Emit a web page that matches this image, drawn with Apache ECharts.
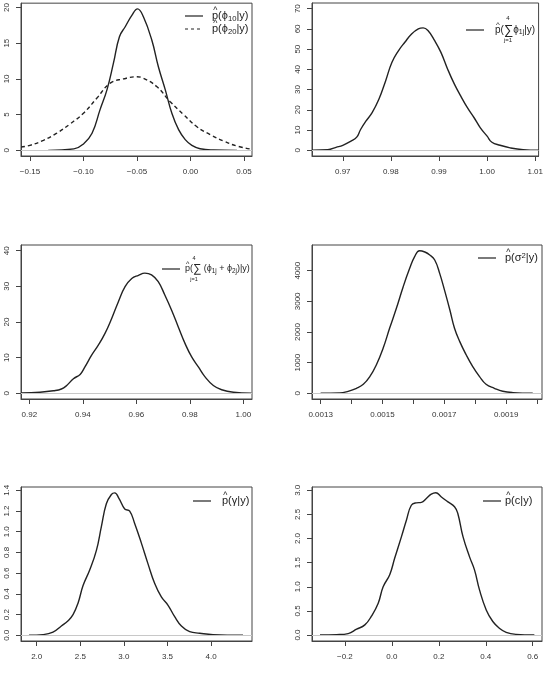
<!DOCTYPE html>
<html>
<head>
<meta charset="utf-8">
<script src="https://cdn.jsdelivr.net/npm/echarts@6/dist/echarts.min.js"></script>
<style>
html, body { margin: 0; padding: 0; background: #fff; }
#chart { width: 546px; height: 676px; }
</style>
</head>
<body>
<div id="chart"></div>
<script>
// density estimates
var phi10X = [-0.133, -0.109, -0.100, -0.092, -0.0845, -0.078, -0.072, -0.0664, -0.061, -0.0548, -0.0495, -0.044, -0.0361, -0.030, -0.0236, -0.0174, -0.0111, -0.0049, 0.0013, 0.009, 0.0216, 0.0435];
var phi10Y = [0, 0.2, 0.9, 2.4, 5.7, 8.5, 12.2, 15.9, 17.3, 18.9, 19.8, 18.7, 15.4, 11.7, 8.5, 5.2, 2.9, 1.5, 0.7, 0.23, 0.05, 0];
var phi20X = [-0.1584, -0.15, -0.1375, -0.125, -0.1125, -0.10, -0.0876, -0.075, -0.0626, -0.05, -0.044, -0.0313, -0.0189, -0.0064, 0.006, 0.0185, 0.031, 0.0435, 0.0575];
var phi20Y = [0.45, 0.7, 1.4, 2.4, 3.7, 5.2, 7.3, 9.4, 10.0, 10.3, 10.1, 8.9, 6.8, 5.0, 3.3, 2.2, 1.3, 0.6, 0.15];
var sum1X = [0.9636, 0.9669, 0.9686, 0.97, 0.9717, 0.9729, 0.9737, 0.9748, 0.9761, 0.9775, 0.9789, 0.9802, 0.9816, 0.9829, 0.9843, 0.9857, 0.9867, 0.9877, 0.9891, 0.9904, 0.9918, 0.9932, 0.9945, 0.9959, 0.9973, 0.9986, 1.0, 1.001, 1.0027, 1.0048, 1.0075, 1.0107];
var sum1Y = [0.1, 0.3, 1.5, 2.5, 4.5, 6.5, 10.3, 14.4, 18.6, 25.2, 34.3, 43.4, 49.3, 53.4, 57.5, 60.0, 60.5, 59.2, 54.2, 48.4, 40.1, 32.7, 26.9, 21.1, 16.1, 11.1, 7.0, 4.0, 2.5, 1.2, 0.3, 0.05];
var sum12X = [0.917, 0.924, 0.929, 0.932, 0.934, 0.9365, 0.939, 0.9408, 0.9433, 0.9458, 0.9483, 0.9508, 0.9533, 0.9558, 0.9583, 0.9608, 0.9632, 0.9657, 0.9682, 0.9707, 0.9732, 0.9757, 0.9782, 0.9807, 0.9832, 0.9857, 0.9888, 0.9919, 0.9963, 1.003];
var sum12Y = [0.1, 0.3, 0.7, 1.2, 2.2, 4.1, 5.3, 7.4, 10.7, 13.5, 16.8, 21.0, 25.7, 29.9, 32.2, 33.1, 33.7, 33.2, 31.3, 27.5, 23.3, 18.6, 14.0, 10.2, 7.4, 4.6, 2.2, 1.0, 0.3, 0.05];
var sig2X = [0.0013, 0.001362, 0.001389, 0.001416, 0.001438, 0.001459, 0.00148, 0.001502, 0.001523, 0.001545, 0.001567, 0.001588, 0.001604, 0.00162, 0.001637, 0.001653, 0.001669, 0.001685, 0.001702, 0.001718, 0.001733, 0.00175, 0.001771, 0.001792, 0.001814, 0.001835, 0.001862, 0.001889, 0.001922, 0.001986];
var sig2Y = [0, 10, 65, 163, 293, 543, 924, 1467, 2120, 2772, 3478, 4076, 4457, 4652, 4609, 4511, 4348, 3913, 3315, 2717, 2120, 1685, 1250, 870, 543, 293, 163, 65, 22, 5];
var gamX = [1.912, 2.073, 2.187, 2.283, 2.36, 2.417, 2.474, 2.532, 2.608, 2.685, 2.742, 2.799, 2.857, 2.895, 2.945, 3.01, 3.067, 3.124, 3.201, 3.277, 3.354, 3.43, 3.507, 3.583, 3.66, 3.755, 3.87, 4.023, 4.367];
var gamY = [0, 0.006, 0.03, 0.09, 0.14, 0.2, 0.31, 0.48, 0.63, 0.82, 1.05, 1.27, 1.36, 1.375, 1.32, 1.22, 1.2, 1.08, 0.89, 0.69, 0.5, 0.37, 0.29, 0.18, 0.09, 0.035, 0.02, 0.006, 0];
var cX = [-0.306, -0.235, -0.186, -0.15, -0.115, -0.087, -0.058, -0.037, -0.009, 0.012, 0.041, 0.062, 0.083, 0.104, 0.126, 0.147, 0.168, 0.187, 0.211, 0.239, 0.267, 0.281, 0.303, 0.331, 0.352, 0.373, 0.402, 0.43, 0.458, 0.487, 0.529, 0.607];
var cY = [0, 0.007, 0.03, 0.12, 0.21, 0.39, 0.66, 1.0, 1.25, 1.59, 2.04, 2.38, 2.69, 2.74, 2.75, 2.83, 2.92, 2.95, 2.86, 2.76, 2.66, 2.52, 2.04, 1.62, 1.35, 0.94, 0.52, 0.28, 0.14, 0.055, 0.014, 0];

// axis ticks
var p1XTicks = [-0.15, -0.10, -0.05, 0.00, 0.05];
var p1YTicks = [0, 5, 10, 15, 20];
var p2XTicks = [0.97, 0.98, 0.99, 1.00, 1.01];
var p2YTicks = [0, 10, 20, 30, 40, 50, 60, 70];
var p3XTicks = [0.92, 0.94, 0.96, 0.98, 1.00];
var p3YTicks = [0, 10, 20, 30, 40];
var p4XTicks = [0.0013, 0.0014, 0.0015, 0.0016, 0.0017, 0.0018, 0.0019, 0.0020];
var p4XLabels = [0.0013, 0.0015, 0.0017, 0.0019];
var p4YTicks = [0, 1000, 2000, 3000, 4000];
var p5XTicks = [2.0, 2.5, 3.0, 3.5, 4.0];
var p5YTicks = [0, 0.2, 0.4, 0.6, 0.8, 1.0, 1.2, 1.4];
var p6XTicks = [-0.2, 0.0, 0.2, 0.4, 0.6];
var p6YTicks = [0, 0.5, 1.0, 1.5, 2.0, 2.5, 3.0];

var FONT = '"Liberation Sans", Arial, sans-serif';
var INK = '#222';

function zip(xs, ys) {
	var out = [];
	for (var i = 0; i < xs.length; i++) out.push([xs[i], ys[i]]);
	return out;
}

function fmt(d) {
	return function(v) {
		return v.toFixed(d).replace('-', '\u2212');
	};
}

var grids = [], xAxes = [], yAxes = [], series = [];

function panel(box, xr, yr, xTicks, xLabels, xDec, yTicks, yDec, curves) {
	var i = grids.length;
	grids.push({
		left: box[0], top: box[1], width: box[2], height: box[3],
		show: true, borderColor: '#444', borderWidth: 1, backgroundColor: 'transparent'
	});
	xAxes.push({
		type: 'value', gridIndex: i, min: xr[0], max: xr[1],
		axisLine: { show: true, onZero: false, lineStyle: { color: '#444', width: 1 } },
		axisTick: { show: true, length: 5, customValues: xTicks, lineStyle: { color: '#444' } },
		axisLabel: { customValues: xLabels, formatter: fmt(xDec), fontSize: 8, fontFamily: FONT, color: '#333', margin: 12 },
		splitLine: { show: false }
	});
	yAxes.push({
		type: 'value', gridIndex: i, min: yr[0], max: yr[1],
		axisLine: { show: true, onZero: false, lineStyle: { color: '#444', width: 1 } },
		axisTick: { show: true, length: 5, customValues: yTicks, lineStyle: { color: '#444' } },
		axisLabel: { customValues: yTicks, formatter: fmt(yDec), rotate: 90, fontSize: 8, fontFamily: FONT, color: '#333', margin: 10 },
		splitLine: { show: false }
	});
	curves.forEach(function(c, k) {
		series.push({
			type: 'line', xAxisIndex: i, yAxisIndex: i,
			data: c.data, showSymbol: false, smooth: 0.45,
			clip: true, silent: true,
			lineStyle: { color: INK, width: 1.4, type: c.dashed ? [4, 3] : 'solid' },
			markLine: k === 0 ? {
				silent: true, symbol: 'none', label: { show: false },
				lineStyle: { color: '#c8c8c8', type: 'solid', width: 1 },
				data: [{ yAxis: 0 }]
			} : undefined,
			z: 3
		});
	});
}

panel([21, 3, 231, 153], [-0.1584, 0.0575], [-0.79, 20.6], p1XTicks, p1XTicks, 2, p1YTicks, 0,
	[{ data: zip(phi10X, phi10Y) }, { data: zip(phi20X, phi20Y), dashed: true }]);
panel([312, 3, 230, 153], [0.9636, 1.0107], [-2.8, 72.8], p2XTicks, p2XTicks, 2, p2YTicks, 0,
	[{ data: zip(sum1X, sum1Y) }]);
panel([21, 245, 231, 154], [0.9169, 1.00325], [-1.6, 41.6], p3XTicks, p3XTicks, 2, p3YTicks, 0,
	[{ data: zip(sum12X, sum12Y) }]);
panel([312, 245, 230, 154], [0.001272, 0.002016], [-186, 4838], p4XTicks, p4XLabels, 4, p4YTicks, 0,
	[{ data: zip(sig2X, sig2Y) }]);
panel([21, 487, 231, 154], [1.82, 4.47], [-0.055, 1.432], p5XTicks, p5XTicks, 1, p5YTicks, 1,
	[{ data: zip(gamX, gamY) }]);
panel([312, 487, 230, 154], [-0.340, 0.6395], [-0.124, 3.068], p6XTicks, p6XTicks, 1, p6YTicks, 1,
	[{ data: zip(cX, cY) }]);

// legends (R plotmath imitation)
function richStyles(size) {
	return {
		m: { fontSize: size, fontFamily: FONT, fill: INK, lineHeight: size + 2 },
		s: { fontSize: size * 0.7, fontFamily: FONT, fill: INK, lineHeight: size * 0.7, padding: [5, 0, 0, 0] },
		u: { fontSize: size * 0.7, fontFamily: FONT, fill: INK, lineHeight: size * 0.7, padding: [0, 0, 5, 0] },
		g: { fontSize: size * 1.3, fontFamily: FONT, fill: INK, lineHeight: size + 2 }
	};
}
var graphics = [];
function legendItem(lx, y, tx, text, size, dashed) {
	graphics.push({
		type: 'line', silent: true,
		shape: { x1: lx, y1: y, x2: lx + 18, y2: y },
		style: { stroke: INK, lineWidth: 1.2, lineDash: dashed ? [3, 3] : null }
	});
	graphics.push({
		type: 'text', silent: true, x: tx, y: y,
		style: { text: text, rich: richStyles(size), fontSize: size, fontFamily: FONT, fill: INK, align: 'left', verticalAlign: 'middle' }
	});
	graphics.push({
		type: 'text', silent: true, x: tx + size * 0.3, y: y - size * 0.5,
		style: { text: '^', fontSize: size * 0.8, fontFamily: FONT, fill: INK, align: 'center', verticalAlign: 'middle' }
	});
}
function smallText(x, y, text, size) {
	graphics.push({
		type: 'text', silent: true, x: x, y: y,
		style: { text: text, fontSize: size, fontFamily: FONT, fill: INK, align: 'center', verticalAlign: 'middle' }
	});
}

legendItem(185, 16, 212, '{m|p(\u03d5}{s|10}{m||y)}', 11, false);
legendItem(185, 29, 212, '{m|p(\u03d5}{s|20}{m||y)}', 11, true);

legendItem(466, 30, 495, '{m|p(}{g|\u2211}{m|\u03d5}{s|1j}{m||y)}', 10, false);
smallText(508, 18, '4', 6);
smallText(508, 40, 'j=1', 6);

legendItem(162, 269, 185, '{m|p(}{g|\u2211}{m| (\u03d5}{s|1j}{m| + \u03d5}{s|2j}{m|)|y)}', 9, false);
smallText(194, 258, '4', 5.5);
smallText(194, 279, 'j=1', 5.5);

legendItem(478, 258, 505, '{m|p(\u03c3}{u|2}{m||y)}', 11, false);
legendItem(193, 501, 222, '{m|p(\u03b3|y)}', 11, false);
legendItem(483, 501, 505, '{m|p(c|y)}', 11, false);

var chart = echarts.init(document.getElementById('chart'), null, { renderer: 'canvas' });
chart.setOption({
	backgroundColor: '#fff',
	animation: false,
	grid: grids,
	xAxis: xAxes,
	yAxis: yAxes,
	series: series,
	graphic: graphics
});
</script>
</body>
</html>
